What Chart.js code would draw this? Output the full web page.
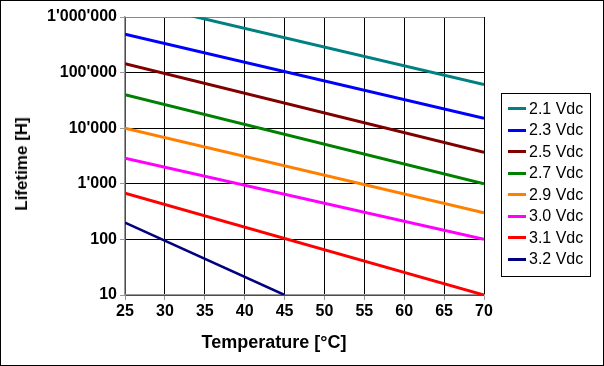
<!DOCTYPE html>
<html>
<head>
<meta charset="utf-8">
<script src="https://cdn.jsdelivr.net/npm/chart.js@4.4.1/dist/chart.umd.min.js"></script>
<style>
  body { margin: 0; background: #fff; }
  #wrap { position: relative; width: 604px; height: 366px; font-family: "Liberation Sans", Arial, sans-serif; }
  #frame { position: absolute; left: 0; top: 0; width: 602px; height: 364px; border: 1px solid #000; pointer-events: none; }
  .axis-title { position: absolute; font-weight: bold; color: #000; white-space: nowrap; transform: translate(-50%, -50%); }
  #ytitle { left: 22px; top: 164px; font-size: 17px; transform: translate(-50%, -50%) rotate(-90deg); }
  #xtitle { left: 274px; top: 342px; font-size: 18px; }
  #legend { position: absolute; left: 501px; top: 93px; width: 90px; height: 184px; border: 1px solid #000; box-sizing: border-box; padding-top: 4px; }
  .item { height: 21.5px; display: flex; align-items: center; font-size: 16px; color: #000; }
  .swatch { width: 18px; height: 3px; margin-left: 6px; margin-right: 3px; }
</style>
</head>
<body>
<div id="wrap">
  <canvas id="chart" width="604" height="366"></canvas>
  <div class="axis-title" id="ytitle">Lifetime [H]</div>
  <div class="axis-title" id="xtitle">Temperature [°C]</div>
  <div id="legend"></div>
  <div id="frame"></div>
</div>
<script>
document.addEventListener("DOMContentLoaded", function() {
  // Lifetime vs. temperature, one straight line (log scale) per voltage
  const seriesLabels = ["2.1 Vdc", "2.3 Vdc", "2.5 Vdc", "2.7 Vdc", "2.9 Vdc", "3.0 Vdc", "3.1 Vdc", "3.2 Vdc"];
  const seriesColors = ["#008080", "#0000ff", "#800000", "#008000", "#ff8000", "#ff00ff", "#ff0000", "#000080"];
  const startTemp = [25, 25, 25, 25, 25, 25, 25, 25];
  const endTemp = [70, 70, 70, 70, 70, 70, 70, 45];
  const lifeAtStart = [2000000, 490000, 145000, 40000, 10000, 2900, 680, 200];
  const lifeAtEnd = [61000, 15000, 3700, 1000, 300, 100, 10, 10];
  const yTicks = [10, 100, 1000, 10000, 100000, 1000000];

  function swissFormat(v) {
    return String(v).replace(/\B(?=(\d{3})+(?!\d))/g, "'");
  }

  const datasets = seriesLabels.map((label, i) => ({
    label: label,
    data: [
      { x: startTemp[i], y: lifeAtStart[i] },
      { x: endTemp[i], y: lifeAtEnd[i] }
    ],
    borderColor: seriesColors[i],
    backgroundColor: seriesColors[i],
    borderWidth: i === 7 ? 2.5 : 3,
    pointRadius: 0,
    tension: 0
  }));

  const ctx = document.getElementById("chart").getContext("2d");
  new Chart(ctx, {
    type: 'line',
    data: { datasets: datasets },
    options: {
      responsive: false,
      animation: false,
      layout: { padding: { left: 0, top: 17, right: 120, bottom: 0 } },
      plugins: { legend: { display: false }, tooltip: { enabled: false } },
      scales: {
        x: {
          type: 'linear',
          min: 25,
          max: 70,
          ticks: {
            stepSize: 5,
            color: '#000',
            padding: 2,
            font: { family: "'Liberation Sans', Arial", size: 16, weight: 'bold' }
          },
          grid: { color: '#000', tickColor: '#999', tickLength: 5, lineWidth: 1 },
          border: { color: '#999', width: 1.5 },
          afterFit: function(scale) { scale.height = 71; }
        },
        y: {
          type: 'logarithmic',
          min: 10,
          max: 1000000,
          afterBuildTicks: function(scale) {
            scale.ticks = yTicks.map(v => ({ value: v }));
          },
          ticks: {
            color: '#000',
            padding: 3,
            autoSkip: false,
            callback: v => swissFormat(v),
            font: { family: "'Liberation Sans', Arial", size: 16, weight: 'bold' }
          },
          grid: {
            color: c => (c.tick && c.tick.value === 1000000 ? '#888' : '#000'),
            tickColor: '#999',
            tickLength: 5,
            lineWidth: 1
          },
          border: { color: '#999', width: 1.5 },
          afterFit: function(scale) { scale.width = 125; }
        }
      }
    }
  });

  // Legend with a frame, like the original
  const legend = document.getElementById("legend");
  seriesLabels.forEach((label, i) => {
    const row = document.createElement("div");
    row.className = "item";
    const sw = document.createElement("span");
    sw.className = "swatch";
    sw.style.background = seriesColors[i];
    const txt = document.createElement("span");
    txt.textContent = label;
    row.appendChild(sw);
    row.appendChild(txt);
    legend.appendChild(row);
  });
});
</script>
</body>
</html>
